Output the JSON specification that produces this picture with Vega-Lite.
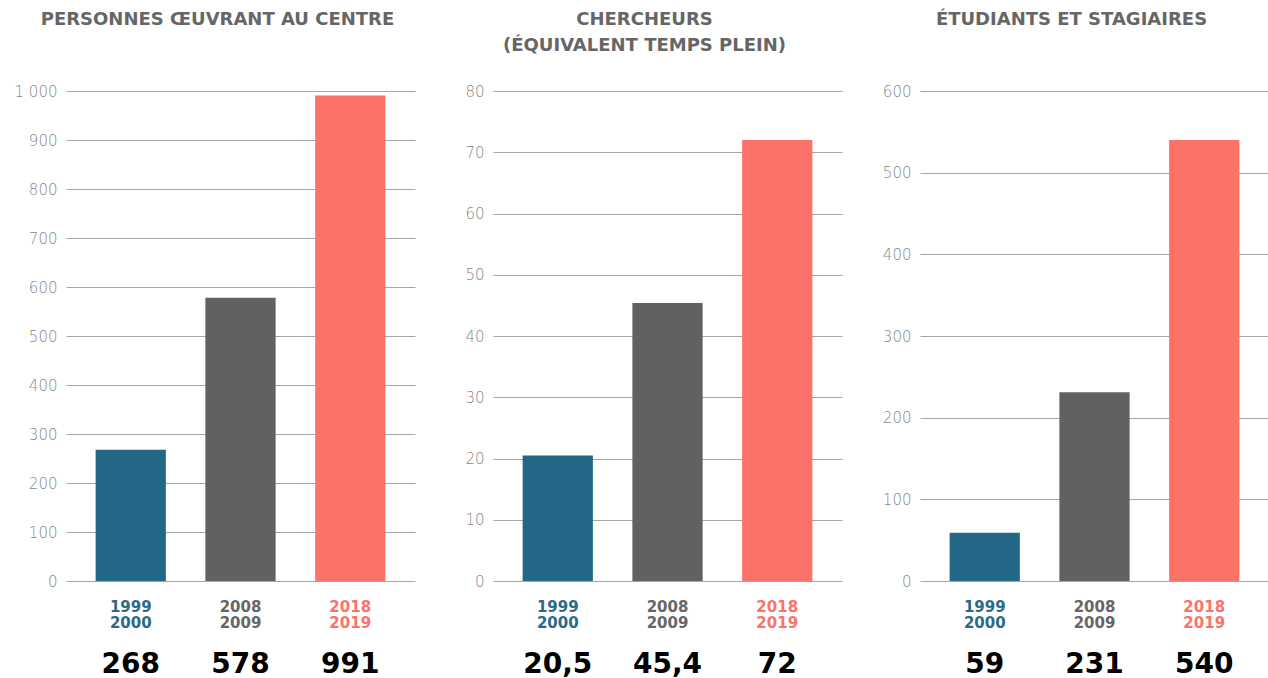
{
  "$schema": "https://vega.github.io/schema/vega-lite/v6.json",
  "padding": {"left": 14, "top": 11, "right": 0, "bottom": 0},
  "background": "white",
  "spacing": 78,
  "bounds": "flush",
  "datasets": {
    "d": [
      {"panel": "personnes", "period": "1999-2000", "value": 268, "valueLabel": "268"},
      {"panel": "personnes", "period": "2008-2009", "value": 578, "valueLabel": "578"},
      {"panel": "personnes", "period": "2018-2019", "value": 991, "valueLabel": "991"},
      {"panel": "chercheurs", "period": "1999-2000", "value": 20.5, "valueLabel": "20,5"},
      {"panel": "chercheurs", "period": "2008-2009", "value": 45.4, "valueLabel": "45,4"},
      {"panel": "chercheurs", "period": "2018-2019", "value": 72, "valueLabel": "72"},
      {"panel": "etudiants", "period": "1999-2000", "value": 59, "valueLabel": "59"},
      {"panel": "etudiants", "period": "2008-2009", "value": 231, "valueLabel": "231"},
      {"panel": "etudiants", "period": "2018-2019", "value": 540, "valueLabel": "540"}
    ]
  },
  "hconcat": [
    {
      "width": 349, "height": 490,
      "title": {"text": ["PERSONNES ŒUVRANT AU CENTRE", " "]},
      "data": {"name": "d"},
      "transform": [{"filter": "datum.panel == 'personnes'"}],
      "layer": [
        {
          "mark": {"type": "bar"},
          "encoding": {
            "x": {"field": "period", "type": "nominal", "sort": null, "scale": {"paddingInner": 0.36, "paddingOuter": 0.27},
                  "axis": {"orient": "bottom", "title": null, "labelExpr": "split(datum.value, '-')", "labelAngle": 0, "labelFontSize": 15, "labelFontWeight": "bold", "labelLineHeight": 16, "labelPadding": 18, "domain": false, "ticks": false, "grid": false,
                           "labelColor": {"expr": "datum.value == '1999-2000' ? '#2a6a88' : datum.value == '2008-2009' ? '#666666' : '#f97469'"}}},
            "y": {"field": "value", "type": "quantitative", "scale": {"domain": [0, 1000]},
                  "axis": {"title": null, "values": [0, 100, 200, 300, 400, 500, 600, 700, 800, 900, 1000], "labelExpr": "replace(format(datum.value, ','), ',', ' ')"}},
            "color": {"field": "period", "type": "nominal", "sort": null, "scale": {"range": ["#236987", "#616161", "#fc7168"]}, "legend": null}
          }
        },
        {
          "mark": {"type": "bar", "opacity": 0},
          "encoding": {
            "x": {"field": "valueLabel", "type": "nominal", "sort": null, "scale": {"paddingInner": 0.36, "paddingOuter": 0.27},
                  "axis": {"orient": "bottom", "offset": 63, "title": null, "labelAngle": 0, "labelFontSize": 28, "labelFontWeight": "bold", "labelColor": "#000000", "labelPadding": 6, "domain": false, "ticks": false, "grid": false}},
            "y": {"field": "value", "type": "quantitative"}
          }
        }
      ],
      "resolve": {"scale": {"x": "independent"}, "axis": {"x": "independent"}}
    },
    {
      "width": 349, "height": 490,
      "title": {"text": ["CHERCHEURS", "(ÉQUIVALENT TEMPS PLEIN)"]},
      "data": {"name": "d"},
      "transform": [{"filter": "datum.panel == 'chercheurs'"}],
      "layer": [
        {
          "mark": {"type": "bar"},
          "encoding": {
            "x": {"field": "period", "type": "nominal", "sort": null, "scale": {"paddingInner": 0.36, "paddingOuter": 0.27},
                  "axis": {"orient": "bottom", "title": null, "labelExpr": "split(datum.value, '-')", "labelAngle": 0, "labelFontSize": 15, "labelFontWeight": "bold", "labelLineHeight": 16, "labelPadding": 18, "domain": false, "ticks": false, "grid": false,
                           "labelColor": {"expr": "datum.value == '1999-2000' ? '#2a6a88' : datum.value == '2008-2009' ? '#666666' : '#f97469'"}}},
            "y": {"field": "value", "type": "quantitative", "scale": {"domain": [0, 80]},
                  "axis": {"title": null, "values": [0, 10, 20, 30, 40, 50, 60, 70, 80]}},
            "color": {"field": "period", "type": "nominal", "sort": null, "scale": {"range": ["#236987", "#616161", "#fc7168"]}, "legend": null}
          }
        },
        {
          "mark": {"type": "bar", "opacity": 0},
          "encoding": {
            "x": {"field": "valueLabel", "type": "nominal", "sort": null, "scale": {"paddingInner": 0.36, "paddingOuter": 0.27},
                  "axis": {"orient": "bottom", "offset": 63, "title": null, "labelAngle": 0, "labelFontSize": 28, "labelFontWeight": "bold", "labelColor": "#000000", "labelPadding": 6, "domain": false, "ticks": false, "grid": false}},
            "y": {"field": "value", "type": "quantitative"}
          }
        }
      ],
      "resolve": {"scale": {"x": "independent"}, "axis": {"x": "independent"}}
    },
    {
      "width": 349, "height": 490,
      "title": {"text": ["ÉTUDIANTS ET STAGIAIRES", " "]},
      "data": {"name": "d"},
      "transform": [{"filter": "datum.panel == 'etudiants'"}],
      "layer": [
        {
          "mark": {"type": "bar"},
          "encoding": {
            "x": {"field": "period", "type": "nominal", "sort": null, "scale": {"paddingInner": 0.36, "paddingOuter": 0.27},
                  "axis": {"orient": "bottom", "title": null, "labelExpr": "split(datum.value, '-')", "labelAngle": 0, "labelFontSize": 15, "labelFontWeight": "bold", "labelLineHeight": 16, "labelPadding": 18, "domain": false, "ticks": false, "grid": false,
                           "labelColor": {"expr": "datum.value == '1999-2000' ? '#2a6a88' : datum.value == '2008-2009' ? '#666666' : '#f97469'"}}},
            "y": {"field": "value", "type": "quantitative", "scale": {"domain": [0, 600]},
                  "axis": {"title": null, "values": [0, 100, 200, 300, 400, 500, 600]}},
            "color": {"field": "period", "type": "nominal", "sort": null, "scale": {"range": ["#236987", "#616161", "#fc7168"]}, "legend": null}
          }
        },
        {
          "mark": {"type": "bar", "opacity": 0},
          "encoding": {
            "x": {"field": "valueLabel", "type": "nominal", "sort": null, "scale": {"paddingInner": 0.36, "paddingOuter": 0.27},
                  "axis": {"orient": "bottom", "offset": 63, "title": null, "labelAngle": 0, "labelFontSize": 28, "labelFontWeight": "bold", "labelColor": "#000000", "labelPadding": 6, "domain": false, "ticks": false, "grid": false}},
            "y": {"field": "value", "type": "quantitative"}
          }
        }
      ],
      "resolve": {"scale": {"x": "independent"}, "axis": {"x": "independent"}}
    }
  ],
  "config": {
    "font": "DejaVu Sans",
    "view": {"stroke": null},
    "title": {"fontSize": 18, "fontWeight": "bold", "color": "#666666", "lineHeight": 26, "offset": 29, "anchor": "middle", "dx": -23, "font": "DejaVu Sans"},
    "axis": {"labelFont": "DejaVu Sans"},
    "axisY": {"domain": false, "ticks": false, "labelFontSize": 15, "labelColor": "#888888", "labelPadding": 9, "gridColor": "#a6a6a6", "gridWidth": 1, "gridOpacity": 1, "labelFontWeight": 200}
  }
}
